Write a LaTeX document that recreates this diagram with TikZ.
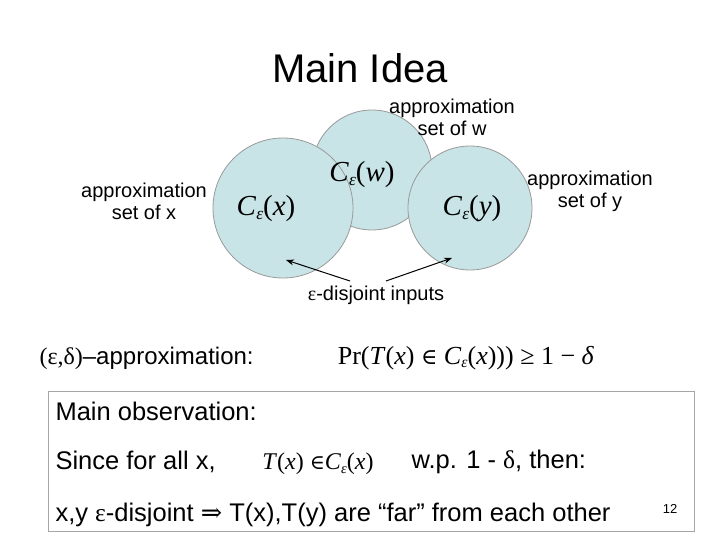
\documentclass[tikz,border=0pt]{standalone}
\usepackage{fontspec}
\setmainfont{Liberation Sans}
\newfontfamily\serf{Liberation Serif}
\newfontfamily\dvs{DejaVu Serif}
\usetikzlibrary{arrows.meta}
\definecolor{circfill}{HTML}{C8E4E6}
\newcommand{\ce}[1]{{\serf\textit{C}\raisebox{-0.3ex}{\scalebox{0.6}{\textit{ε}}}(\textit{#1})}}
\newcommand{\elm}{{\dvs\scalebox{0.85}{∈}}}
\begin{document}
\begin{tikzpicture}[x=1pt,y=-1pt,
  circ/.style={draw=gray!80,fill=circfill,line width=0.8pt},
  lbl/.style={font=\fontsize{20}{22}\selectfont,align=center},
  body/.style={font=\fontsize{25.5}{27}\selectfont,anchor=west},
  mth/.style={font=\fontsize{29}{31}\selectfont},
  arr/.style={-{Stealth[length=8pt,width=6pt]},line width=1pt}]
\useasboundingbox (0,0) rectangle (720,540);
\node[font=\fontsize{40}{44}\selectfont] (title) at (360,68) {Main Idea};
\node[circ,circle,minimum size=120pt] (cw) at (372,170) {};
\node[circ,circle,minimum size=140pt] (cx) at (283,208) {};
\node[circ,circle,minimum size=124pt] (cy) at (470,208) {};
\node[mth] (tw) at (362,175) {\ce{w}};
\node[mth] (tx) at (266,209) {\ce{x}};
\node[mth] (ty) at (472,209) {\ce{y}};
\node[lbl] (lw) at (452,117) {approximation\\set of w};
\node[lbl] (lx) at (144,201) {approximation\\set of x};
\node[lbl] (ly) at (590,191) {approximation\\set of y};
\node[lbl] (dis) at (376,295) {{\serf ε}-disjoint inputs};
\coordinate (a1) at (350,281);
\coordinate (a2) at (386,281);
\coordinate (e1) at (286,260);
\coordinate (e2) at (452,258);
\draw[arr] (a1) -- (e1);
\draw[arr] (a2) -- (e2);
\node[body,font=\fontsize{24}{26}\selectfont] (ed) at (36,358) {{\serf(ε,δ)}–approximation:};
\node[mth,font=\fontsize{26}{28}\selectfont] (pr) at (466,358) {{\serf Pr(\textit{T}(\textit{x}) \elm{} \ce{x})) ≥ 1 − \textit{δ}}};
\draw[gray!70,line width=0.8pt] (48,391) rectangle (694,531);
\node[body] (mo) at (52,411) {Main observation:};
\node[body] (sf) at (52,462) {Since for all x,};
\node[mth,font=\fontsize{24}{26}\selectfont] (tf) at (318,464) {{\serf\textit{T}(\textit{x}) \elm\ce{x}}};
\node[body] (wp) at (408,462) {w.p. 1 - {\serf δ}, then:};
\node[body] (xy) at (52,515) {x,y {\serf ε}-disjoint {\dvs ⇒} T(x),T(y) are “far” from each other};
\node[font=\fontsize{13}{14}\selectfont] (pg) at (670,509) {12};
\end{tikzpicture}
\end{document}
